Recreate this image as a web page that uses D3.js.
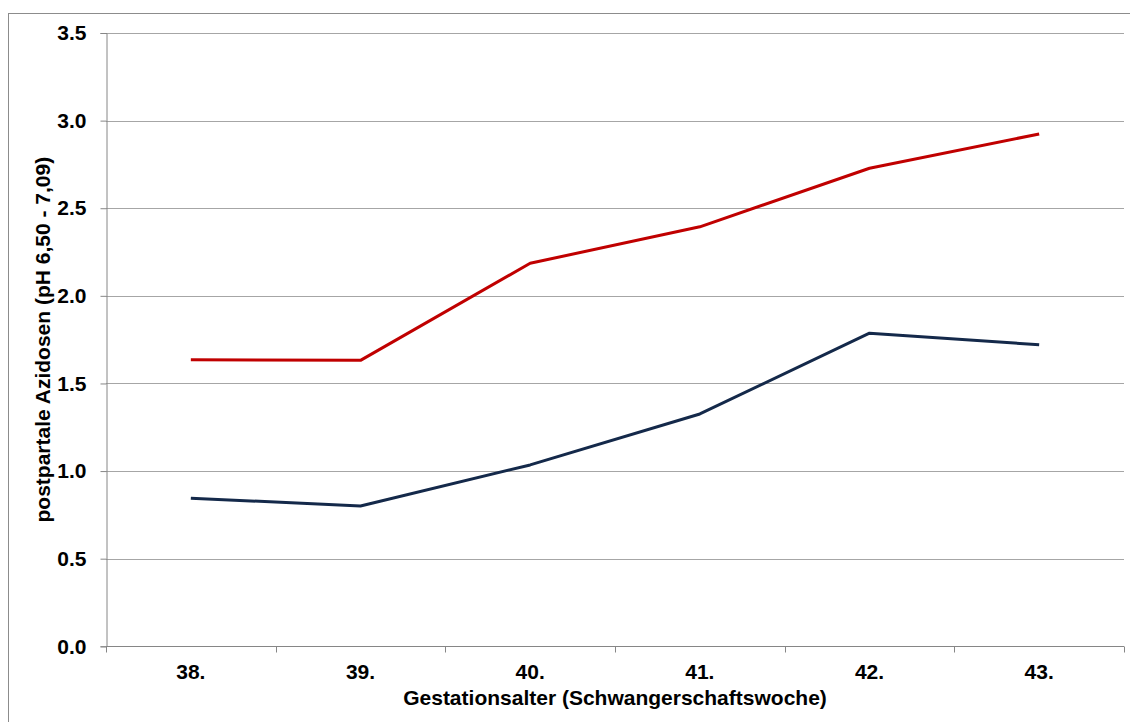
<!DOCTYPE html>
<html>
<head>
<meta charset="utf-8">
<script src="https://cdn.jsdelivr.net/npm/d3@7"></script>
<style>
  html, body { margin: 0; padding: 0; background: #fff; }
  svg { display: block; }
  text { font-family: "Liberation Sans", Arial, sans-serif; font-weight: bold; fill: #000; }
</style>
</head>
<body>
<svg id="chart" width="1130" height="722"></svg>
<script>
// Gestational week categories and the two acidosis series (values in %)
const weeks = ["38.", "39.", "40.", "41.", "42.", "43."];
const upperSeries = [1.636, 1.632, 2.186, 2.394, 2.728, 2.924];
const lowerSeries = [0.845, 0.801, 1.035, 1.326, 1.787, 1.721];
const yTicks = [0, 0.5, 1.0, 1.5, 2.0, 2.5, 3.0, 3.5];

const xTitle = "Gestationsalter (Schwangerschaftswoche)";
const yTitle = "postpartale Azidosen (pH 6,50 - 7,09)";

const FONT = 21;
const svg = d3.select("#chart");
const plot = { left: 106, right: 1124, top: 33, bottom: 646.3 };

// Outer frame
svg.append("rect")
  .attr("x", 8.5).attr("y", 13.5)
  .attr("width", 1140).attr("height", 730)
  .attr("fill", "none").attr("stroke", "#8c8c8c").attr("stroke-width", 1);

const x = d3.scaleBand().domain(weeks).range([plot.left, plot.right]).padding(0);
const y = d3.scaleLinear().domain([0, 3.5]).range([plot.bottom, plot.top]);

// Horizontal gridlines
svg.append("g")
  .selectAll("line")
  .data(yTicks.filter(d => d > 0))
  .join("line")
  .attr("x1", plot.left).attr("x2", plot.right)
  .attr("y1", d => Math.round(y(d)) + 0.5).attr("y2", d => Math.round(y(d)) + 0.5)
  .attr("stroke", "#a6a6a6").attr("stroke-width", 1);

// Y axis
const yAxis = svg.append("g")
  .attr("transform", `translate(${plot.left + 0.5},0)`)
  .call(d3.axisLeft(y).tickValues(yTicks).tickFormat(d3.format(".1f")).tickSize(6).tickPadding(14));
yAxis.select(".domain").attr("stroke", "#868686");
yAxis.selectAll(".tick line").attr("stroke", "#868686");
yAxis.selectAll(".tick text").attr("font-size", FONT).attr("font-family", "Liberation Sans, Arial, sans-serif").attr("font-weight", "bold").attr("fill", "#000");

// X axis with boundary ticks between categories
const xAxisG = svg.append("g").attr("transform", `translate(0,${Math.round(plot.bottom) + 0.5})`);
xAxisG.append("line")
  .attr("x1", plot.left).attr("x2", plot.right)
  .attr("stroke", "#868686");
const bounds = weeks.map(w => x(w)).concat([plot.right]);
xAxisG.selectAll("line.bt")
  .data(bounds)
  .join("line").attr("class", "bt")
  .attr("x1", d => Math.round(d) + 0.5).attr("x2", d => Math.round(d) + 0.5)
  .attr("y1", 0).attr("y2", 6)
  .attr("stroke", "#868686");
xAxisG.selectAll("text")
  .data(weeks)
  .join("text")
  .attr("x", d => x(d) + x.bandwidth() / 2)
  .attr("y", 32)
  .attr("text-anchor", "middle")
  .attr("font-size", FONT)
  .text(d => d);

// Axis titles
svg.append("text")
  .attr("x", (plot.left + plot.right) / 2)
  .attr("y", 705)
  .attr("text-anchor", "middle")
  .attr("font-size", FONT)
  .text(xTitle);

svg.append("text")
  .attr("transform", `translate(50,${(plot.top + plot.bottom) / 2}) rotate(-90)`)
  .attr("text-anchor", "middle")
  .attr("font-size", FONT)
  .text(yTitle);

// Series lines
const line = d3.line()
  .x((d, i) => x(weeks[i]) + x.bandwidth() / 2)
  .y(d => y(d));

svg.append("path")
  .datum(upperSeries)
  .attr("d", line)
  .attr("fill", "none")
  .attr("stroke", "#c00000")
  .attr("stroke-width", 3)
  .attr("stroke-linejoin", "round");

svg.append("path")
  .datum(lowerSeries)
  .attr("d", line)
  .attr("fill", "none")
  .attr("stroke", "#14294a")
  .attr("stroke-width", 3)
  .attr("stroke-linejoin", "round");
</script>
</body>
</html>
